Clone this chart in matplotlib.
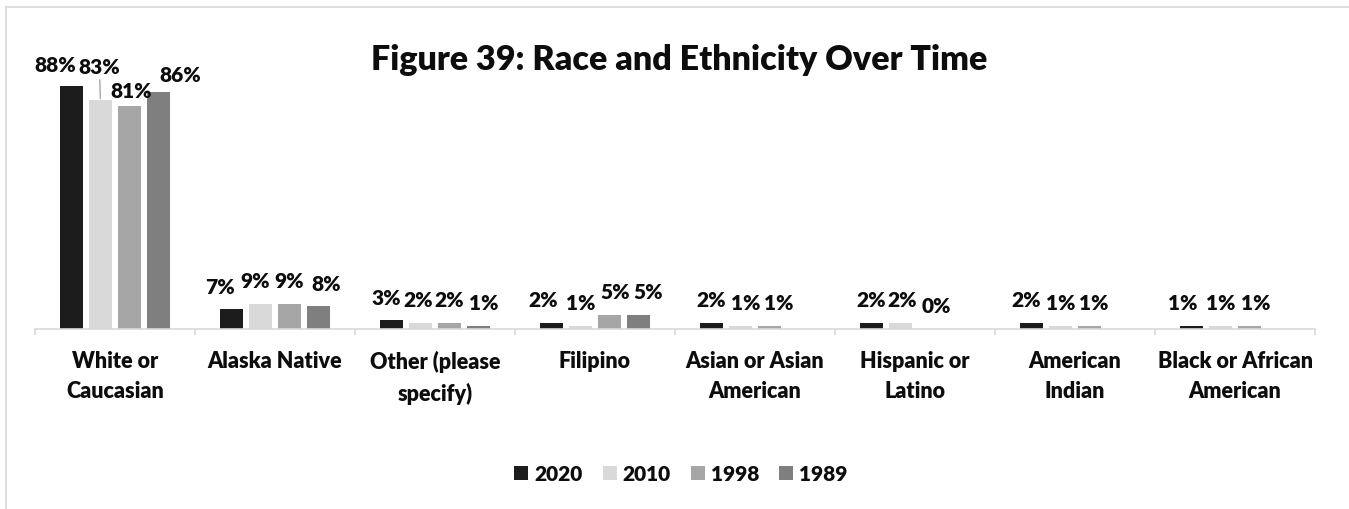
import numpy as np
import matplotlib
matplotlib.use("Agg")
import matplotlib.pyplot as plt
from matplotlib.patches import Patch
from matplotlib.lines import Line2D

plt.rcParams["font.family"] = ["Lato", "DejaVu Sans"]

categories = ["White or\nCaucasian", "Alaska Native", "Other (please\nspecify)", "Filipino",
              "Asian or Asian\nAmerican", "Hispanic or\nLatino", "American\nIndian",
              "Black or African\nAmerican"]
years = ["2020", "2010", "1998", "1989"]
pct_2020 = [88, 7, 3, 2, 2, 2, 2, 1]
pct_2010 = [83, 9, 2, 1, 1, 2, 1, 1]
pct_1998 = [81, 9, 2, 5, 1, 0, 1, 1]
pct_1989 = [86, 8, 1, 5, np.nan, np.nan, np.nan, np.nan]

series = [pct_2020, pct_2010, pct_1998, pct_1989]
colors = ["#1c1c1c", "#d9d9d9", "#a6a6a6", "#7f7f7f"]

# label nudges in pixels (dx, dy above the bar top), per category and year
label_dx = [[-16, -1, 1.5, 21], [-11, -5.5, 0, 7.5], [-5, -2, 0, 5], [-8, 0, 6, 9],
            [0, 5, 9, 0], [0, 2, 7, 0], [-5.5, 0, 4, 0], [-8, 0, 6.5, 0]]
label_dy = {(0, 0): 22, (0, 1): 34, (0, 2): 15, (0, 3): 17}
DEFAULT_DY = 23

W, H = 1349, 510
fig = plt.figure(figsize=(W / 100, H / 100), dpi=100)
fig.patch.set_facecolor("white")

ax_left, ax_right = 35, 1315
ax_base = 329.5
px_per_pct = 2.753
ax = fig.add_axes([ax_left / W, 1 - ax_base / H, (ax_right - ax_left) / W, 100 * px_per_pct / H])

n = len(categories)
x = np.arange(n)
bar_w = 0.144
pitch = 0.1825
grey_line = "#d9d9d9"
TXT = "#0d0d0d"
WEIGHT = "heavy"
label_font = dict(fontsize=15, fontweight=WEIGHT, color=TXT)

for k, (vals, col) in enumerate(zip(series, colors)):
    xs = x + (k - 1.5) * pitch
    ax.bar(xs, vals, width=bar_w, color=col, edgecolor="none", zorder=2)
    for i, v in enumerate(vals):
        if np.isnan(v):
            continue
        dx = label_dx[i][k]
        dy = label_dy.get((i, k), DEFAULT_DY)
        props = None
        if (i, k) == (0, 1):
            props = dict(arrowstyle="-", color="#a6a6a6", lw=1.0, shrinkA=1, shrinkB=1)
        ax.annotate(f"{v:.0f}%", xy=(xs[i], v), xytext=(dx, dy), textcoords="offset pixels",
                    ha="center", va="center", arrowprops=props, zorder=3, **label_font)

ax.set_xlim(-0.5, n - 0.5)
ax.set_ylim(0, 100)
for s in ["left", "right", "top"]:
    ax.spines[s].set_visible(False)
ax.spines["bottom"].set_color(grey_line)
ax.spines["bottom"].set_linewidth(1.2)
ax.set_yticks([])
ax.set_xticks([])
ax.set_xticks(np.arange(-0.5, n, 1.0), minor=True)
ax.tick_params(axis="x", which="minor", length=4.5, width=1.2, color=grey_line, labelbottom=False)

# category labels under each group
cat_font = dict(label_font, fontsize=15.5)
for i, cat in enumerate(categories):
    ax.annotate(cat, xy=(i, 0), xycoords=("data", "axes fraction"), xytext=(0, -21),
                textcoords="offset pixels", ha="center", va="top", linespacing=1.55,
                **cat_font)

fig.text(679 / W, 1 - 60 / H, "Figure 39: Race and Ethnicity Over Time",
         ha="center", va="center", fontsize=24.5, fontweight=WEIGHT, color=TXT)

handles = [Patch(facecolor=c, edgecolor="none") for c in colors]
leg = fig.legend(handles, years, loc="center", bbox_to_anchor=(681 / W, 1 - 475 / H), ncol=4,
                 frameon=False, handlelength=0.67, handleheight=0.67, handletextpad=0.3,
                 columnspacing=0.95, prop=dict(size=15, weight=WEIGHT))
for t in leg.get_texts():
    t.set_color(TXT)

# outer chart frame (top and left edges)
fig.add_artist(Line2D([6 / W, 1.0], [1 - 8 / H, 1 - 8 / H], color=grey_line, lw=1.2,
                      transform=fig.transFigure))
fig.add_artist(Line2D([6 / W, 6 / W], [1 - 8 / H, 0.0], color=grey_line, lw=1.2,
                      transform=fig.transFigure))

fig.savefig("out.png", dpi=100, facecolor="white")
